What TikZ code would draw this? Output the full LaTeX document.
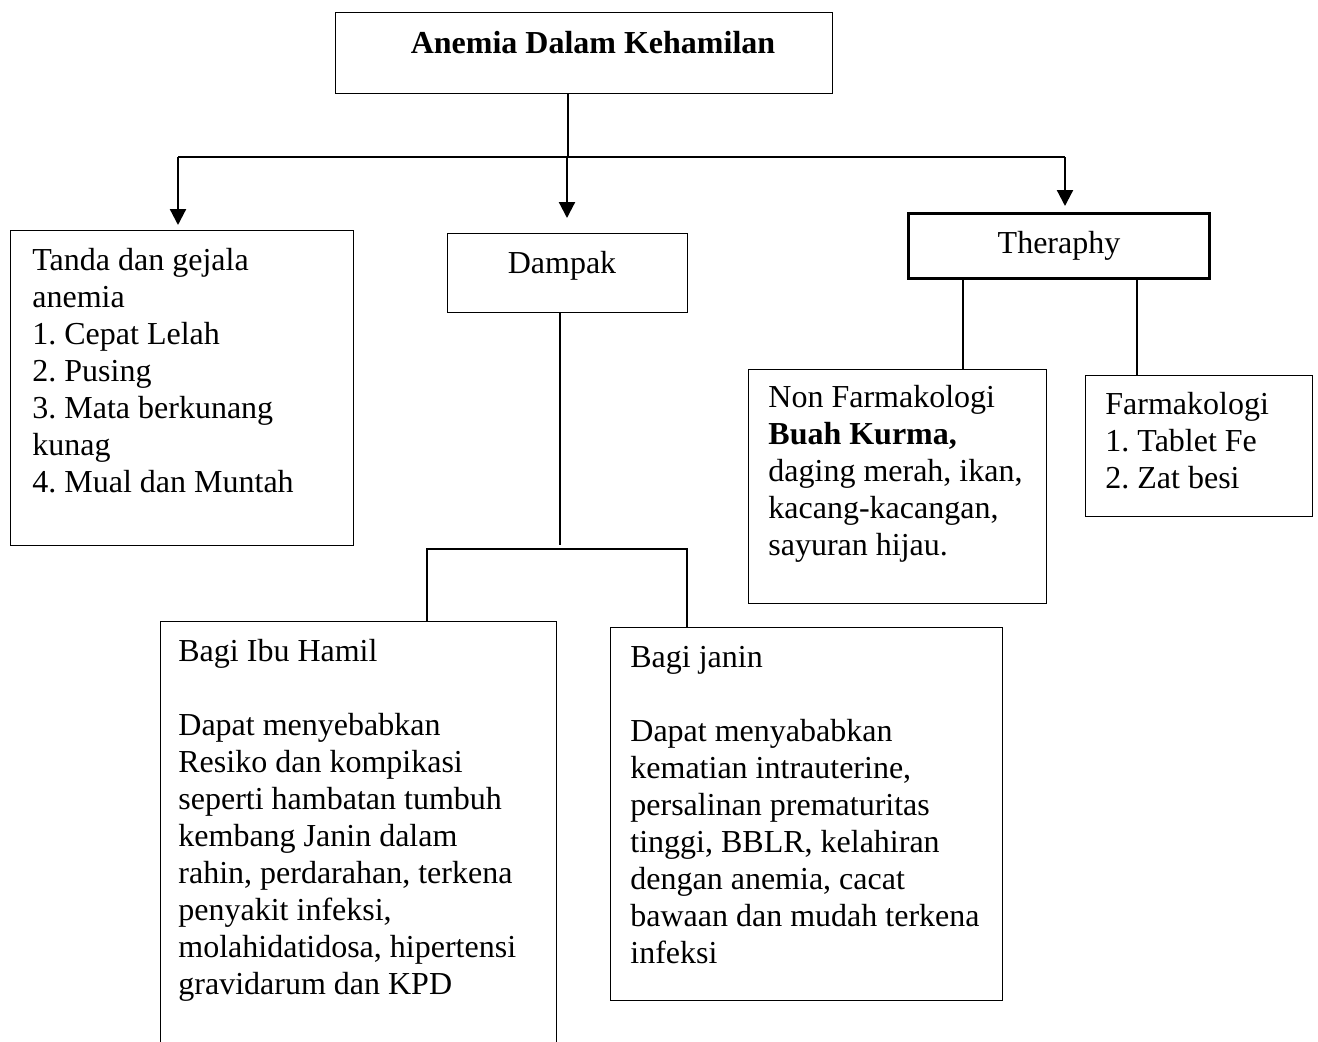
\documentclass[tikz,border=0pt]{standalone}
\usepackage{fontspec}
\setmainfont{Liberation Serif}
\usetikzlibrary{arrows.meta}
\frenchspacing
\begin{document}
\begin{tikzpicture}[x=0.5pt,y=-0.5pt,
  box/.style={draw=black, line width=0.7pt, inner sep=0pt, anchor=north west},
  thickbox/.style={draw=black, line width=1.4pt, inner sep=0pt, anchor=north west},
  txt/.style={inner sep=0pt, align=left, font=\fontsize{16}{18.5}\selectfont},
  ln/.style={draw=black, line width=0.7pt},
  arr/.style={draw=black, line width=1.1pt, -{Triangle[length=8pt,width=8pt]}}]
\useasboundingbox (0,0) rectangle (1318,1041);

% boxes
\node[box, minimum width=248.5pt, minimum height=40.5pt] (title) at (335,12) {};
\node[box, minimum width=171.5pt, minimum height=157.5pt] (tanda) at (10,230) {};
\node[box, minimum width=120pt, minimum height=39.5pt] (dampak) at (447,233) {};
\node[thickbox, minimum width=150.5pt, minimum height=32.5pt] (ther) at (907,212) {};
\node[box, minimum width=149pt, minimum height=117pt] (nonfarm) at (748,369) {};
\node[box, minimum width=113.5pt, minimum height=70.5pt] (farm) at (1085,375) {};
\node[box, minimum width=198pt, minimum height=220pt] (ibu) at (160,621) {};
\node[box, minimum width=196pt, minimum height=186.5pt] (janin) at (610,627) {};

% texts
\node[txt, anchor=north] (titletxt) at (593,29) {\rule{0pt}{12pt}\textbf{Anemia Dalam Kehamilan}};
\node[txt, anchor=north west] (tandatxt) at (32,246) {\rule{0pt}{12pt}Tanda dan gejala\\anemia\\1. Cepat Lelah\\2. Pusing\\3. Mata berkunang\\kunag\\4. Mual dan Muntah};
\node[txt, anchor=north] (dampaktxt) at (562,249) {\rule{0pt}{12pt}Dampak};
\node[txt, anchor=north] (thertxt) at (1059,229) {\rule{0pt}{12pt}Theraphy};
\node[txt, anchor=north west] (nonfarmtxt) at (768,383) {\rule{0pt}{12pt}Non Farmakologi\\\textbf{Buah Kurma,}\\daging merah, ikan,\\kacang-kacangan,\\sayuran hijau.};
\node[txt, anchor=north west] (farmtxt) at (1105,390) {\rule{0pt}{12pt}Farmakologi\\1. Tablet Fe\\2. Zat besi};
\node[txt, anchor=north west] (ibutxt) at (178,637) {\rule{0pt}{12pt}Bagi Ibu Hamil\\[18.5pt]Dapat menyebabkan\\Resiko dan kompikasi\\seperti hambatan tumbuh\\kembang Janin dalam\\rahin, perdarahan, terkena\\penyakit infeksi,\\molahidatidosa, hipertensi\\gravidarum dan KPD};
\node[txt, anchor=north west] (janintxt) at (630,643) {\rule{0pt}{12pt}Bagi janin\\[18.5pt]Dapat menyababkan\\kematian intrauterine,\\persalinan prematuritas\\tinggi, BBLR, kelahiran\\dengan anemia, cacat\\bawaan dan mudah terkena\\infeksi};

% top connectors
\coordinate (t0) at (568,157);
\coordinate (j1) at (178,157);
\coordinate (j2) at (567,157);
\coordinate (j3) at (1065,157);
\draw[ln] (title.south -| t0) -- (t0);
\draw[ln] (j1) -- (j3);
\draw[arr, shorten >=2.5pt] (j1) -- (j1 |- tanda.north);
\draw[arr, shorten >=7.5pt] (j2) -- (j2 |- dampak.north);
\draw[arr, shorten >=3pt] (j3) -- (j3 |- ther.north);

% theraphy branches
\coordinate (r1) at (963,300);
\coordinate (r2) at (1137,300);
\draw[ln] (ther.south -| r1) -- (r1 |- nonfarm.north);
\draw[ln] (ther.south -| r2) -- (r2 |- farm.north);

% dampak branches
\coordinate (d0) at (560,545);
\coordinate (d1) at (427,549);
\coordinate (d2) at (687,549);
\draw[ln] (dampak.south -| d0) -- (d0);
\draw[ln] (d1 |- ibu.north) -- (d1) -- (d2) -- (d2 |- janin.north);
\end{tikzpicture}
\end{document}
